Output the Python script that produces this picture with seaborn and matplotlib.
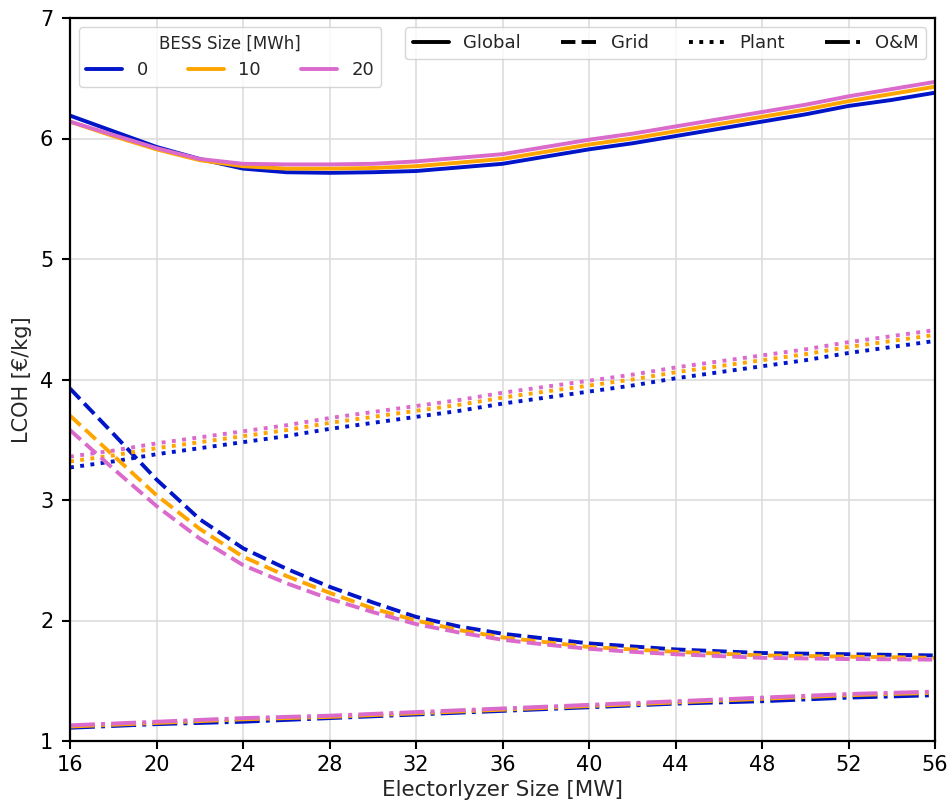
import numpy as np
import pandas as pd
import seaborn as sns
import matplotlib
matplotlib.use("Agg")
import matplotlib.pyplot as plt
from matplotlib.lines import Line2D

electrolyzer = [16, 18, 20, 22, 24, 26, 28, 30, 32, 34, 36,
                38, 40, 42, 44, 46, 48, 50, 52, 54, 56]
bess_sizes = ["0", "10", "20"]

global_0 = [6.19, 6.06, 5.93, 5.83, 5.75, 5.72, 5.715, 5.72, 5.73, 5.76, 5.79,
            5.85, 5.91, 5.96, 6.02, 6.08, 6.14, 6.20, 6.27, 6.32, 6.38]
global_10 = [6.14, 6.02, 5.91, 5.82, 5.77, 5.75, 5.75, 5.755, 5.77, 5.80, 5.83,
             5.89, 5.95, 6.00, 6.06, 6.12, 6.18, 6.24, 6.31, 6.37, 6.43]
global_20 = [6.14, 6.03, 5.92, 5.83, 5.79, 5.785, 5.785, 5.79, 5.81, 5.84, 5.87,
             5.93, 5.99, 6.04, 6.10, 6.16, 6.22, 6.28, 6.35, 6.41, 6.47]

grid_0 = [3.925, 3.55, 3.17, 2.84, 2.60, 2.43, 2.28, 2.15, 2.03, 1.95, 1.89,
          1.85, 1.81, 1.785, 1.76, 1.745, 1.73, 1.725, 1.72, 1.715, 1.71]
grid_10 = [3.70, 3.37, 3.04, 2.76, 2.53, 2.37, 2.23, 2.10, 2.00, 1.92, 1.86,
           1.82, 1.78, 1.76, 1.74, 1.725, 1.71, 1.705, 1.70, 1.695, 1.69]
grid_20 = [3.58, 3.26, 2.95, 2.68, 2.46, 2.31, 2.18, 2.07, 1.97, 1.90, 1.84,
           1.80, 1.765, 1.74, 1.72, 1.705, 1.69, 1.685, 1.68, 1.678, 1.675]

plant_0 = [3.27, 3.32, 3.38, 3.43, 3.48, 3.53, 3.59, 3.64, 3.69, 3.74, 3.80,
           3.85, 3.90, 3.95, 4.01, 4.06, 4.11, 4.16, 4.22, 4.27, 4.32]
plant_10 = [3.32, 3.37, 3.43, 3.48, 3.53, 3.58, 3.64, 3.69, 3.74, 3.79, 3.85,
            3.90, 3.95, 4.00, 4.06, 4.11, 4.16, 4.21, 4.27, 4.32, 4.37]
plant_20 = [3.36, 3.41, 3.47, 3.52, 3.57, 3.62, 3.68, 3.73, 3.78, 3.83, 3.89,
            3.94, 3.99, 4.04, 4.10, 4.15, 4.20, 4.25, 4.31, 4.36, 4.41]

om_0 = [1.11, 1.125, 1.14, 1.15, 1.16, 1.175, 1.19, 1.205, 1.22, 1.235, 1.25,
        1.265, 1.28, 1.295, 1.31, 1.32, 1.33, 1.345, 1.36, 1.37, 1.38]
om_10 = [1.12, 1.135, 1.15, 1.165, 1.18, 1.19, 1.20, 1.215, 1.23, 1.245, 1.26,
         1.275, 1.29, 1.305, 1.32, 1.335, 1.35, 1.365, 1.38, 1.39, 1.40]
om_20 = [1.13, 1.145, 1.16, 1.175, 1.19, 1.20, 1.21, 1.225, 1.24, 1.255, 1.27,
         1.285, 1.30, 1.315, 1.33, 1.345, 1.36, 1.375, 1.39, 1.40, 1.41]

series = {
    ("Global", "0"): global_0, ("Global", "10"): global_10, ("Global", "20"): global_20,
    ("Grid", "0"): grid_0, ("Grid", "10"): grid_10, ("Grid", "20"): grid_20,
    ("Plant", "0"): plant_0, ("Plant", "10"): plant_10, ("Plant", "20"): plant_20,
    ("O&M", "0"): om_0, ("O&M", "10"): om_10, ("O&M", "20"): om_20,
}
rows = []
for (kind, bess), vals in series.items():
    for x, v in zip(electrolyzer, vals):
        rows.append({"x": x, "LCOH": v, "BESS": bess, "Type": kind})
df = pd.DataFrame(rows)

sns.set_theme(style="whitegrid")
plt.rcParams.update({
    "font.family": ["DejaVu Sans"],
    "axes.edgecolor": "black",
    "axes.linewidth": 1.6,
    "grid.color": "#dddddd",
    "grid.linewidth": 1.2,
    "xtick.bottom": True,
    "ytick.left": True,
    "xtick.color": "black",
    "ytick.color": "black",
})

palette = {"0": "#0015C8", "10": "#FFA500", "20": "#DA6ACB"}
dashes = {"Global": "", "Grid": (3.7, 1.6), "Plant": (1, 1.65), "O&M": (6.4, 1.6, 1, 1.6)}
order_types = ["Global", "Grid", "Plant", "O&M"]

fig = plt.figure(figsize=(9.52, 8.06), dpi=100)
ax = fig.add_axes([70 / 952, 1 - 741 / 806, 865 / 952, 723 / 806])

sns.lineplot(data=df, x="x", y="LCOH", hue="BESS", style="Type",
             hue_order=bess_sizes, style_order=order_types,
             palette=palette, dashes=dashes, linewidth=2.8,
             legend=False, ax=ax, sort=False)

ax.set_xlim(16, 56)
ax.set_ylim(1, 7)
ax.set_xticks(np.arange(16, 57, 4))
ax.set_yticks(np.arange(1, 8, 1))
ax.tick_params(labelsize=15, length=6, width=1.5, direction="out")
ax.tick_params(axis="x", pad=4)
ax.tick_params(axis="y", pad=6)
ax.set_xlabel("Electorlyzer Size [MW]", fontsize=15.5, labelpad=4)
ax.set_ylabel("LCOH [€/kg]", fontsize=15, labelpad=6)
for s in ax.spines.values():
    s.set_color("black")
    s.set_linewidth(1.6)

hue_handles = [Line2D([0], [0], color=palette[b], lw=2.8) for b in bess_sizes]
leg1 = ax.legend(hue_handles, bess_sizes, title="BESS Size [MWh]", ncol=3,
                 loc="upper left", fontsize=13, title_fontsize=12,
                 frameon=True, handlelength=2.0, columnspacing=2.2,
                 borderpad=0.4, handletextpad=0.8)
leg1.get_frame().set_edgecolor("#cccccc")
ax.add_artist(leg1)

style_handles = []
for t in order_types:
    ln = Line2D([0], [0], color="black", lw=2.8)
    if dashes[t] != "":
        ln.set_dashes(dashes[t])
    style_handles.append(ln)
leg2 = ax.legend(style_handles, order_types, ncol=4, loc="upper right",
                 fontsize=13, frameon=True, handlelength=2.0,
                 columnspacing=2.2, borderpad=0.4, handletextpad=0.8)
leg2.get_frame().set_edgecolor("#cccccc")

fig.savefig("out.png", dpi=100)
